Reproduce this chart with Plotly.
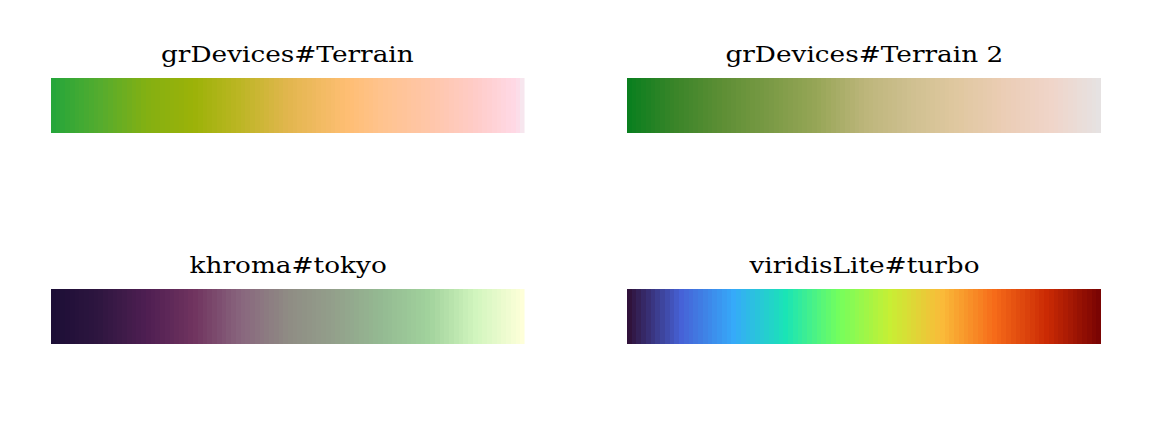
import plotly.graph_objects as go

W, H = 1152, 422
N_STEPS = 100

titles = ["grDevices#Terrain", "grDevices#Terrain 2", "khroma#tokyo", "viridisLite#turbo"]

terrain = ["#26A63A", "#55AC2E", "#84B012", "#9CB208", "#BDB625", "#E2B64E",
           "#FFBE74", "#FFC38E", "#FFC6A8", "#FFCCC8", "#FFD9E6", "#F7E6EE"]
terrain_pos = [0.0, 0.1, 0.2, 0.3, 0.4, 0.5, 0.63, 0.7, 0.8, 0.9, 0.985, 1.0]

terrain2 = ["#0A7F1F", "#3B8529", "#5E8F35", "#7A9A45", "#97A657", "#BCB57A",
            "#CFC090", "#E0C8A0", "#EBCDB5", "#F0D5C9", "#E6E2E2"]
terrain2_pos = [0.0, 0.1, 0.2, 0.3, 0.4, 0.5, 0.6, 0.7, 0.8, 0.9, 1.0]

tokyo = ["#1C0E36", "#2F1640", "#4F1F52", "#70335F", "#89667E", "#8F8C84",
         "#93A08B", "#94BA92", "#A1D29C", "#D1F5BE", "#FEFFD9"]
tokyo_pos = [0.0, 0.1, 0.2, 0.3, 0.4, 0.5, 0.6, 0.7, 0.8, 0.9, 1.0]

turbo = ["#30123B", "#4662D7", "#36AAF9", "#1AE4B6", "#72FE5E", "#C7EF34",
         "#FABA39", "#F66B19", "#CB2A04", "#7A0403"]
turbo_pos = [i / 9 for i in range(10)]

palettes = [(terrain, terrain_pos), (terrain2, terrain2_pos),
            (tokyo, tokyo_pos), (turbo, turbo_pos)]

steps = list(range(N_STEPS))

# panel geometry in pixels (left, right, top, bottom)
cols_px = [(51, 524.5), (627, 1101)]
rows_px = [(78, 133), (289, 344)]
TITLE_SIZE = 23
TITLE_STRETCH = 1.145

fig = go.Figure()
for i, (cols, pos) in enumerate(palettes):
    r, c = divmod(i, 2)
    x0, x1 = cols_px[c]
    y0, y1 = rows_px[r]
    ax = "" if i == 0 else str(i + 1)
    fig.add_trace(go.Heatmap(
        z=[steps], x=steps, y=[0],
        colorscale=[[p, col] for p, col in zip(pos, cols)],
        zmin=0, zmax=N_STEPS - 1, showscale=False, hoverinfo="skip",
        xaxis="x" + ax, yaxis="y" + ax,
    ))
    fig.update_layout(**{
        "xaxis" + ax: dict(domain=[x0 / W, x1 / W], visible=False, fixedrange=True,
                           anchor="y" + ax, range=[-0.5, N_STEPS - 0.5]),
        "yaxis" + ax: dict(domain=[1 - y1 / H, 1 - y0 / H], visible=False, fixedrange=True,
                           anchor="x" + ax, range=[-0.5, 0.5]),
    })
    fig.add_annotation(
        text=titles[i], xref="paper", yref="paper",
        x=(x0 + x1) / 2 / W, y=1 - (y0 - 9) / H,
        xanchor="center", yanchor="bottom", showarrow=False,
        font=dict(family="DejaVu Serif", size=TITLE_SIZE, color="#000000"),
    )

fig.update_layout(
    width=W, height=H, margin=dict(l=0, r=0, t=0, b=0),
    paper_bgcolor="white", plot_bgcolor="white", showlegend=False,
)

post = """
var gd = document.getElementById('{plot_id}');
gd.querySelectorAll('text.annotation-text').forEach(function(t){
  var L = t.getComputedTextLength();
  t.setAttribute('textLength', L * %s);
  t.setAttribute('lengthAdjust', 'spacingAndGlyphs');
});
""" % TITLE_STRETCH

fig.write_html("out.html", config={"displayModeBar": False}, post_script=post)
